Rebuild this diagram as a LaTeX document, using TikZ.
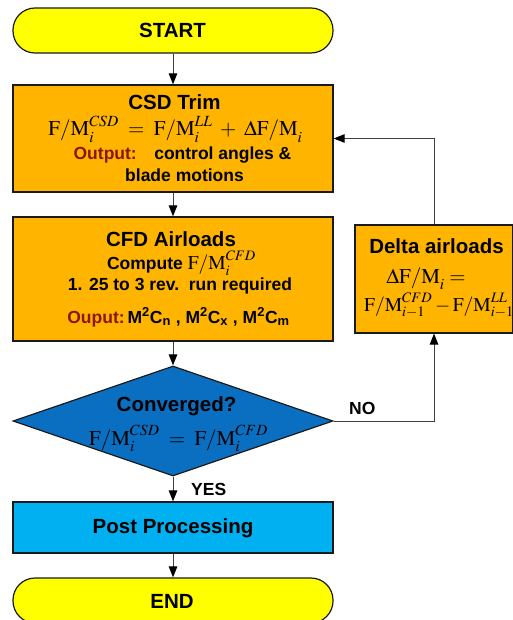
\documentclass[tikz,border=0pt]{standalone}
\usepackage{mathptmx}
\usepackage{fontspec}
\setmainfont{Liberation Serif}
\setsansfont{Liberation Sans}
\usetikzlibrary{arrows.meta,shapes.geometric}
\definecolor{termyellow}{HTML}{FFFF00}
\definecolor{boxorange}{HTML}{FFB400}
\definecolor{decblue}{HTML}{0B6FC1}
\definecolor{postblue}{HTML}{00B0F0}
\definecolor{outred}{HTML}{8B1500}
\definecolor{linegray}{HTML}{404040}
\definecolor{edgeblack}{HTML}{1A1A1A}
\newcommand{\FMq}{\mathrm{F/M}}
\begin{document}
\begin{tikzpicture}[x=1pt,y=-1pt,
  box/.style={draw=edgeblack, line width=1.2pt, inner sep=0pt},
  term/.style={box, fill=termyellow, rounded corners=22pt, minimum width=320pt, minimum height=45pt},
  procbox/.style={box, fill=boxorange},
  lbl/.style={anchor=base, inner sep=0pt, font=\sffamily\bfseries\fontsize{20.5}{24}\selectfont},
  small/.style={anchor=base, inner sep=0pt, font=\sffamily\bfseries\fontsize{17.5}{21}\selectfont},
  eq/.style={anchor=base, inner sep=0pt, font=\fontsize{21}{25}\selectfont},
  flow/.style={draw=linegray, line width=1pt, -{Triangle[length=11pt,width=8.5pt,color=black]}}
]
\useasboundingbox (0,0) rectangle (513,620);
% shapes
\node[term] (start) at (173,30.5) {};
\node[procbox, minimum width=320pt, minimum height=107pt] (csd) at (173,138.5) {};
\node[procbox, minimum width=320pt, minimum height=124pt] (cfd) at (173,279) {};
\node[procbox, minimum width=158pt, minimum height=108pt] (delta) at (434,279) {};
\node[box, diamond, fill=decblue, minimum width=320pt, minimum height=110pt, aspect=2.9] (dec) at (173,421) {};
\node[box, fill=postblue, minimum width=320pt, minimum height=51pt] (post) at (173,527.5) {};
\node[term] (end) at (173,600.5) {};
% texts
\node[lbl] (tstart) at (172.5,37.3) {START};
\node[lbl] (tcsd) at (174.5,110) {CSD Trim};
\node[eq] (eqcsd) at (175.5,136) {$\FMq_i^{CSD} \;=\; \FMq_i^{LL} \;+\; \Delta\FMq_i$};
\node[small] (tout1) at (182.5,160) {{\color{outred}Output:}\quad control angles \&};
\node[small] (tout2) at (184.5,181.7) {blade motions};
\node[lbl] (tcfd) at (171,246.3) {CFD Airloads};
\node[small] (tcomp) at (181.5,269.5) {Compute \normalfont\fontsize{19.5}{23}\selectfont$\FMq_i^{CFD}$};
\node[small] (trev) at (180,290.5) {1. 25 to 3 rev.\ \ run required};
\node[small] (touput) at (178.5,323.3) {{\color{outred}Ouput:}\,M\textsuperscript{2}C\textsubscript{n} , M\textsuperscript{2}C\textsubscript{x} , M\textsuperscript{2}C\textsubscript{m}};
\node[lbl] (tdelta) at (436.5,253.3) {Delta airloads};
\node[eq] (eqd1) at (426,283) {$\Delta\FMq_i =$};
\node[eq, font=\fontsize{19.5}{23}\selectfont] (eqd2) at (439,311) {$\FMq_{i-1}^{CFD} - \FMq_{i-1}^{LL}$};
\node[lbl] (tconv) at (176.5,411.7) {Converged?};
\node[eq] (eqconv) at (178.5,445) {$\FMq_i^{CSD} \;=\; \FMq_i^{CFD}$};
\node[small, anchor=base west] (tno) at (349,414.3) {NO};
\node[small, anchor=base west] (tyes) at (191,495) {YES};
\node[lbl] (tpost) at (173,533.3) {Post Processing};
\node[lbl] (tend) at (172,608.3) {END};
% connectors
\draw[flow] (start) -- (csd);
\draw[flow] (csd) -- (cfd);
\draw[flow] (cfd) -- (dec);
\draw[flow] (dec) -- (post);
\draw[flow] (post) -- (end);
\draw[flow] (dec.east) -- (dec.east -| delta.south) -- (delta.south);
\draw[flow] (delta.north) -- (delta.north |- csd.east) -- (csd.east);
\end{tikzpicture}
\end{document}
